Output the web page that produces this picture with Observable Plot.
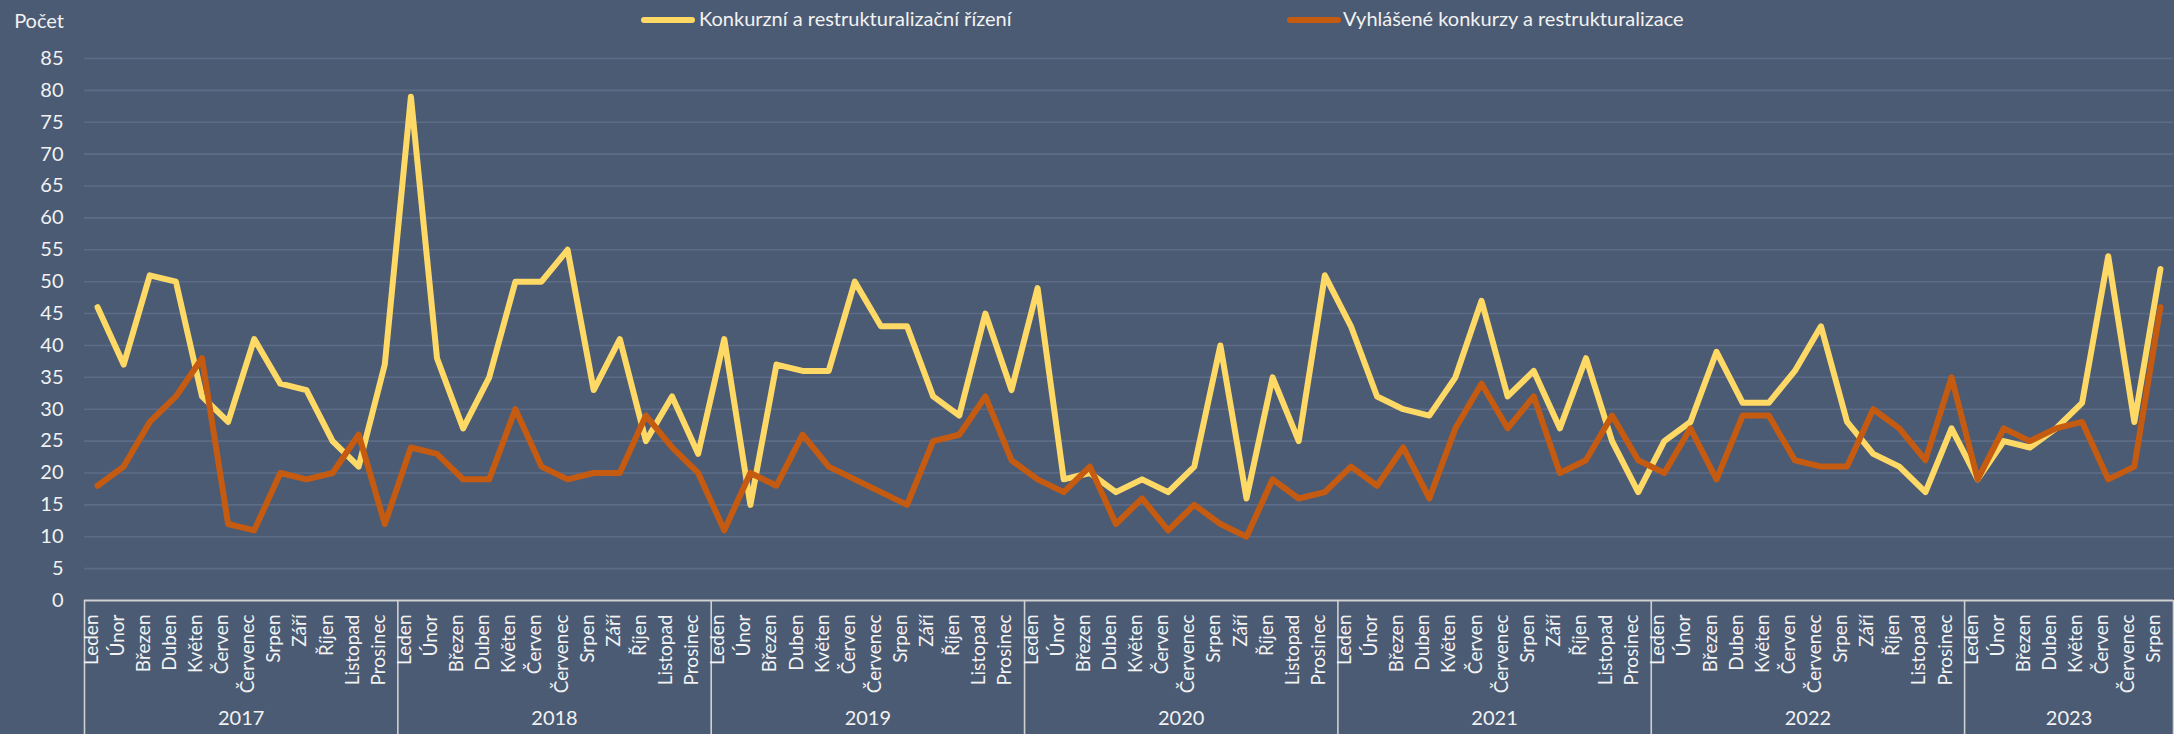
<!DOCTYPE html>
<html>
<head>
<meta charset="utf-8">
<script src="https://cdn.jsdelivr.net/npm/d3@7"></script>
<script src="https://cdn.jsdelivr.net/npm/@observablehq/plot@0.6"></script>
<style>
  html, body { margin: 0; padding: 0; background: #4B5B74; overflow: hidden; }
  #wrap { position: relative; width: 2174px; height: 734px; background: #4B5B74; }
  .lbl { position: absolute; font-family: Lato, "Open Sans", sans-serif; color: #F2F2F2; white-space: nowrap; }
  .sw { position: absolute; height: 6px; border-radius: 3px; }
</style>
</head>
<body>
<div id="wrap">
  <div id="chart"></div>
  <div class="lbl" id="ylab" style="right:2110px; top:8px; font-size:20px;"></div>
  <div class="sw" id="sw1" style="left:641px; top:17px; width:54px;"></div>
  <div class="lbl" id="lg1" style="left:699px; top:6px; font-size:20px;"></div>
  <div class="sw" id="sw2" style="left:1287px; top:17px; width:54px;"></div>
  <div class="lbl" id="lg2" style="left:1343px; top:6px; font-size:20px;"></div>
</div>
<script>
const yAxisTitle = "Počet";
const seriesNames = ["Konkurzní a restrukturalizační řízení", "Vyhlášené konkurzy a restrukturalizace"];
const seriesColors = ["#FFD966", "#C55A11"];
const monthNames = ["Leden","Únor","Březen","Duben","Květen","Červen","Červenec","Srpen","Září","Říjen","Listopad","Prosinec"];
const years = [2017, 2018, 2019, 2020, 2021, 2022, 2023];
const monthsPerYear = [12, 12, 12, 12, 12, 12, 8];
const yTicks = [0,5,10,15,20,25,30,35,40,45,50,55,60,65,70,75,80,85];

// Konkurzní a restrukturalizační řízení
const rizeni = [
  46,37,51,50,32,28,41,34,33,25,21,37,
  79,38,27,35,50,50,55,33,41,25,32,23,
  41,15,37,36,36,50,43,43,32,29,45,33,
  49,19,20,17,19,17,21,40,16,35,25,51,
  43,32,30,29,35,47,32,36,27,38,25,17,
  25,28,39,31,31,36,43,28,23,21,17,27,
  19,25,24,27,31,54,28,52
];
// Vyhlášené konkurzy a restrukturalizace
const vyhlasene = [
  18,21,28,32,38,12,11,20,19,20,26,12,
  24,23,19,19,30,21,19,20,20,29,24,20,
  11,20,18,26,21,19,17,15,25,26,32,22,
  19,17,21,12,16,11,15,12,10,19,16,17,
  21,18,24,16,27,34,27,32,20,22,29,22,
  20,27,19,29,29,22,21,21,30,27,22,35,
  19,27,25,27,28,19,21,46
];

// Build rows
const rows = [];
years.forEach((yr, yi) => {
  for (let m = 0; m < monthsPerYear[yi]; m++) {
    const i = rows.length;
    rows.push({i, year: yr, month: monthNames[m], rizeni: rizeni[i], vyhlasene: vyhlasene[i]});
  }
});
const yearRows = [];
const bounds = [-0.5];
let start = 0;
years.forEach((yr, yi) => {
  const end = start + monthsPerYear[yi] - 1;
  yearRows.push({year: String(yr), mid: (start + end) / 2});
  bounds.push(end + 0.5);
  start = end + 1;
});

const W = 2174, H = 734, mL = 84, mR = 1, mT = 58, mB = 134;
const textCol = "#F2F2F2";
const gridCol = "#5C6C87";
const axisCol = "#D0D0D0";
const font = "Lato, 'Open Sans', sans-serif";

const chart = Plot.plot({
  width: W, height: H,
  marginLeft: mL, marginRight: mR, marginTop: mT, marginBottom: mB,
  style: {background: "transparent", color: textCol, overflow: "visible"},
  x: {type: "linear", domain: [-0.5, rows.length - 0.5], axis: null},
  y: {domain: [0, 85], axis: null},
  marks: [
    Plot.ruleY(yTicks.filter(d => d > 0), {stroke: gridCol, strokeWidth: 1.6}),
    Plot.text(yTicks, {y: d => d, text: d => String(d), frameAnchor: "left", dx: -21, textAnchor: "end",
      fontSize: 20, fontFamily: font, fill: textCol}),
    Plot.line(rows, {x: "i", y: "rizeni", stroke: seriesColors[0], strokeWidth: 6, strokeLinejoin: "round", strokeLinecap: "round"}),
    Plot.line(rows, {x: "i", y: "vyhlasene", stroke: seriesColors[1], strokeWidth: 6, strokeLinejoin: "round", strokeLinecap: "round"}),
    Plot.ruleX(bounds, {x: d => d, stroke: axisCol, strokeWidth: 1.6, insetTop: H - mT - mB, insetBottom: -mB}),
    Plot.ruleY([0], {stroke: axisCol, strokeWidth: 2.2}),
    Plot.text(rows, {x: "i", text: "month", frameAnchor: "bottom", rotate: -90, textAnchor: "end", dy: 14,
      fontSize: 19, fontFamily: font, fill: textCol}),
    Plot.text(yearRows, {x: "mid", text: "year", frameAnchor: "bottom", dy: 124,
      fontSize: 20, fontFamily: font, fill: textCol})
  ]
});
document.getElementById("chart").appendChild(chart);
document.getElementById("ylab").textContent = yAxisTitle;
document.getElementById("lg1").textContent = seriesNames[0];
document.getElementById("lg2").textContent = seriesNames[1];
document.getElementById("sw1").style.background = seriesColors[0];
document.getElementById("sw2").style.background = seriesColors[1];
</script>
</body>
</html>
